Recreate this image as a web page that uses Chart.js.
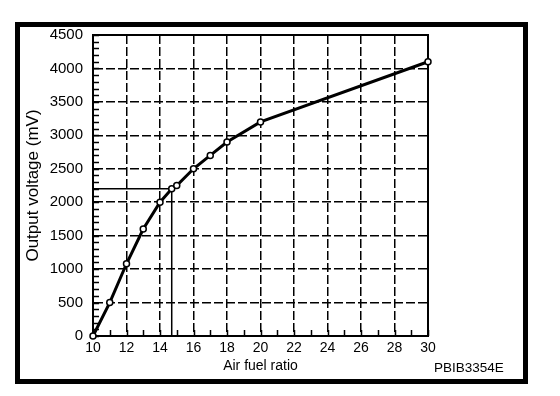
<!DOCTYPE html>
<html>
<head>
<meta charset="utf-8">
<script src="https://cdn.jsdelivr.net/npm/chart.js@4/dist/chart.umd.min.js"></script>
<style>
  html, body { margin: 0; padding: 0; background: #fff; }
  #wrap { position: relative; width: 560px; height: 396px; }
  #frame { position: absolute; left: 15px; top: 22px; width: 513px; height: 362px; border: 5px solid #000; box-sizing: border-box; }
  #c { position: absolute; left: 0; top: 0; }
  #code { position: absolute; left: 434px; top: 360px; font: 13.5px "Liberation Sans", Arial, sans-serif; color: #000; }
</style>
</head>
<body>
<div id="wrap">
  <div id="frame"></div>
  <canvas id="c" width="560" height="396"></canvas>
  <div id="code">PBIB3354E</div>
</div>
<script>
// Data
const airFuelRatio = [10, 11, 12, 13, 14, 14.7, 15, 16, 17, 18, 20, 30];
const outputVoltage = [0, 500, 1080, 1600, 2000, 2200, 2250, 2500, 2700, 2900, 3200, 4100];
const refLineX = [10, 14.7, 14.7];
const refLineY = [2200, 2200, 0];
const xTitle = "Air fuel ratio";
const yTitle = "Output voltage (mV)";
const xRange = [10, 30];
const yRange = [0, 4500];
const xStep = 2;
const yStep = 500;
const xMinorStep = 1;
const yMinorStep = 100;

const curve = airFuelRatio.map((x, i) => ({ x: x, y: outputVoltage[i] }));
const refLine = refLineX.map((x, i) => ({ x: x, y: refLineY[i] }));

const FONT = "'Liberation Sans', Arial, Helvetica, sans-serif";

const innerTicks = {
  id: 'innerTicks',
  beforeDatasetsDraw(chart) {
    const { ctx, chartArea: a, scales: { x, y } } = chart;
    ctx.save();
    ctx.strokeStyle = '#000';
    ctx.lineWidth = 1.5;
    ctx.setLineDash([]);
    ctx.beginPath();
    for (let v = yRange[0]; v <= yRange[1]; v += yMinorStep) {
      const py = Math.round(y.getPixelForValue(v)) + 0.5;
      ctx.moveTo(a.left, py);
      ctx.lineTo(a.left + 6, py);
    }
    for (let v = xRange[0]; v <= xRange[1]; v += xMinorStep) {
      const px = Math.round(x.getPixelForValue(v)) + 0.5;
      ctx.moveTo(px, a.bottom);
      ctx.lineTo(px, a.bottom - 6);
    }
    ctx.stroke();
    ctx.lineWidth = 2;
    ctx.strokeRect(a.left, a.top, a.right - a.left, a.bottom - a.top);
    ctx.restore();
  }
};

new Chart(document.getElementById('c'), {
  type: 'scatter',
  data: {
    datasets: [
      {
        data: curve,
        showLine: true,
        clip: false,
        borderColor: '#000',
        borderWidth: 3,
        tension: 0,
        pointRadius: 3,
        pointBackgroundColor: '#fff',
        pointBorderColor: '#000',
        pointBorderWidth: 1.5,
        order: 0
      },
      {
        data: refLine,
        showLine: true,
        borderColor: '#000',
        borderWidth: 1.5,
        pointRadius: 0,
        order: 1
      }
    ]
  },
  options: {
    responsive: false,
    animation: false,
    devicePixelRatio: 1,
    layout: { padding: { left: 0, top: 35, right: 132, bottom: 0 } },
    plugins: { legend: { display: false }, tooltip: { enabled: false } },
    scales: {
      x: {
        type: 'linear',
        min: xRange[0], max: xRange[1],
        afterFit(s) { s.height = 60; },
        ticks: { stepSize: xStep, color: '#000', font: { family: FONT, size: 14 }, padding: 4, maxRotation: 0,
                 callback: v => String(v) },
        grid: { color: '#000', lineWidth: 1.5, drawTicks: false },
        border: { display: true, color: '#000', width: 2, dash: [9, 3] },
        title: { display: true, text: xTitle, color: '#000', font: { family: FONT, size: 14 }, padding: { top: 0, bottom: 21 } }
      },
      y: {
        min: yRange[0], max: yRange[1],
        afterFit(s) { s.width = 93; },
        ticks: { stepSize: yStep, color: '#000', font: { family: FONT, size: 15 }, padding: 10,
                 callback: v => String(v) },
        grid: { color: '#000', lineWidth: 1.5, drawTicks: false },
        border: { display: true, color: '#000', width: 2, dash: [9, 3] },
        title: { display: true, text: yTitle, color: '#000', font: { family: FONT, size: 17 }, padding: { top: 23, bottom: 0 } }
      }
    }
  },
  plugins: [innerTicks]
});
</script>
</body>
</html>
